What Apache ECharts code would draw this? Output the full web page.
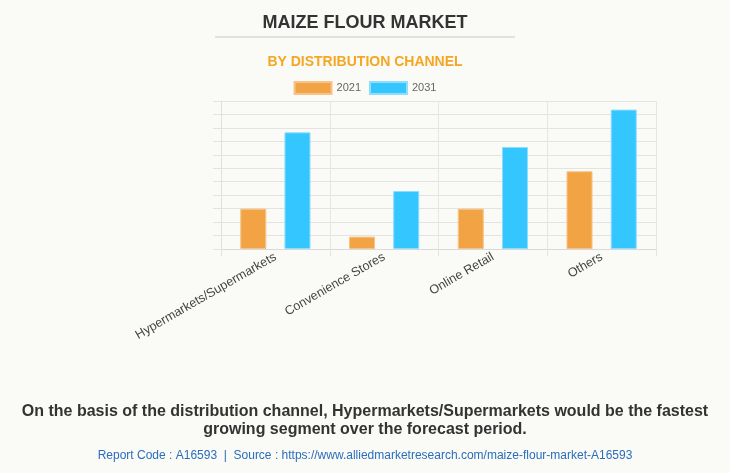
<!DOCTYPE html>
<html>
<head>
<meta charset="utf-8">
<script src="https://cdn.jsdelivr.net/npm/echarts@6/dist/echarts.min.js"></script>
<style>
html,body{margin:0;padding:0;background:#fafaf6;}
#c{width:730px;height:473px;}
</style>
</head>
<body>
<div id="c"></div>
<script>
var categories = ["Hypermarkets/Supermarkets", "Convenience Stores", "Online Retail", "Others"];
var values2021 = [3.0, 0.92, 3.0, 5.78];
var values2031 = [8.67, 4.31, 7.58, 10.36];
var seriesNames = ["2021", "2031"];

var chart = echarts.init(document.getElementById('c'));
var ff = 'Arial, Liberation Sans';
chart.setOption({
  backgroundColor: '#fafaf6',
  animation: false,
  title: [
    {text: 'MAIZE FLOUR MARKET', left: 'center', top: 9,
     textStyle: {fontFamily: ff, fontSize: 18, fontWeight: 'bold', color: '#333'}},
    {text: 'BY DISTRIBUTION CHANNEL', left: 'center', top: 50,
     textStyle: {fontFamily: ff, fontSize: 14, fontWeight: 'bold', color: '#f5a623'}},
    {text: 'On the basis of the distribution channel, Hypermarkets/Supermarkets would be the fastest',
     left: 'center', top: 399,
     textStyle: {fontFamily: ff, fontSize: 16, fontWeight: 'bold', color: '#333'}},
    {text: 'growing segment over the forecast period.',
     left: 'center', top: 417,
     textStyle: {fontFamily: ff, fontSize: 16, fontWeight: 'bold', color: '#333'}},
    {text: 'Report Code : A16593  |  Source : https://www.alliedmarketresearch.com/maize-flour-market-A16593',
     left: 'center', top: 445,
     textStyle: {fontFamily: ff, fontSize: 12, fontWeight: 'normal', color: '#2a6ebb'}}
  ],
  graphic: [
    {type: 'line', shape: {x1: 215, y1: 37, x2: 515, y2: 37}, style: {stroke: '#c8c8c8', lineWidth: 1}}
  ],
  legend: {
    top: 76, left: 'center', itemWidth: 37, itemHeight: 12, itemGap: 8,
    icon: 'rect',
    textStyle: {fontFamily: ff, fontSize: 11, color: '#666'},
    data: seriesNames
  },
  grid: {left: 221, right: 74, top: 101, bottom: 224, containLabel: false},
  xAxis: {
    type: 'category', data: categories,
    axisLine: {show: true, lineStyle: {color: '#d9d9d9'}},
    axisTick: {show: true, length: 7, lineStyle: {color: '#e3e3e3'}},
    splitLine: {show: true, lineStyle: {color: '#e6e6e6'}},
    axisLabel: {rotate: 30, fontFamily: ff, fontSize: 12.6, color: '#444', margin: 7, interval: 0}
  },
  yAxis: {
    type: 'value', min: 0, max: 11, interval: 1,
    axisLine: {show: true, lineStyle: {color: '#e0e0e0'}},
    axisTick: {show: true, length: 8, lineStyle: {color: '#e3e3e3'}},
    axisLabel: {show: false},
    splitLine: {show: true, lineStyle: {color: '#e3e3e3'}}
  },
  series: [
    {name: seriesNames[0], type: 'bar', data: values2021, barWidth: 26, barGap: '70%',
     itemStyle: {color: '#f2a444', borderColor: '#f6c48a', borderWidth: 1}},
    {name: seriesNames[1], type: 'bar', data: values2031, barWidth: 26,
     itemStyle: {color: '#33c6ff', borderColor: '#8fdcfb', borderWidth: 1}}
  ]
});
</script>
</body>
</html>
